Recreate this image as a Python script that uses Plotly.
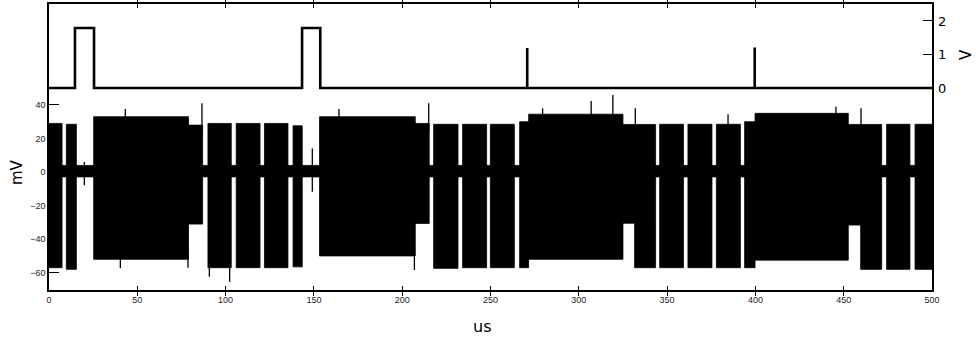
import plotly.graph_objects as go

# ---------------- data ----------------
# Top panel: digital trigger (V) vs time (us)
trig_t = [0, 14.7, 14.7, 25.5, 25.5, 143.3, 143.3, 153.6, 153.6, 270.8, 270.8, 270.8, 399.6, 399.6, 399.6, 500]
trig_v = [0, 0, 1.79, 1.79, 0, 0, 1.79, 1.79, 0, 0, 1.19, 0, 0, 1.21, 0, 0]

# Bottom panel: burst envelopes of the recorded trace (mV)
burst_start  = [0, 9.8, 25.3, 79, 90, 106, 122, 138.2, 153.2, 207.4, 217.8, 234.2, 249.9, 266.5, 271.6,
                325, 331.6, 345.8, 361.8, 377.9, 393.9, 399.8, 452.6, 459.6, 474.3, 490.4]
burst_end    = [7.4, 15.5, 79, 87, 103.2, 119.5, 135.3, 143.4, 207.4, 215.3, 231.6, 247.8, 263.5, 271.6, 325,
                331.6, 343.5, 359.3, 375.4, 391.5, 399.8, 452.6, 459.6, 471.5, 487.5, 500]
burst_top    = [29, 28.5, 33, 28, 29, 29, 29, 27.6, 33, 29, 28.5, 28.5, 28.5, 30, 34.5,
                28.4, 28.4, 28.5, 28.5, 28.5, 30, 35, 28.4, 28.4, 28.5, 28.5]
burst_bottom = [-57, -58, -52, -31, -57, -57, -57, -56.5, -50, -30.6, -57.4, -57, -57, -57, -52,
                -30.5, -57, -57, -57, -57, -57, -52.5, -31.6, -58, -58, -58]

# resting band between bursts (mV)
base_low, base_high = -3.0, 4.0

# isolated excursions beyond the envelopes: time (us), from (mV), to (mV)
spike_t    = [86.6, 215.0, 307.0, 319.3, 332.0, 459.8, 445.6, 43.2, 164.2, 279.5, 384.5,
              40.4, 78.7, 90.8, 102.3, 206.9, 149.1, 20.0]
spike_from = [25, 25, 30, 30, 25, 25, 30, 30, 30, 30, 25,
              -45, -45, -50, -50, -45, -11.7, -7.8]
spike_to   = [41, 41, 42.3, 46, 38, 38, 39, 37.6, 37.6, 38, 34.4,
              -57.4, -57, -62.4, -65.4, -58.4, 14, 6]

# ---------------- figure ----------------
fig = go.Figure()

# baseline band
fig.add_trace(go.Scatter(
    x=[0, 500, 500, 0, 0], y=[base_low, base_low, base_high, base_high, base_low],
    mode="lines", fill="toself", fillcolor="black", line=dict(color="black", width=0.5),
    hoverinfo="skip", showlegend=False))

# bursts
bx, by = [], []
for s, e, t, b in zip(burst_start, burst_end, burst_top, burst_bottom):
    bx += [s, s, e, e, s, None]
    by += [b, t, t, b, b, None]
fig.add_trace(go.Scatter(
    x=bx, y=by, mode="lines", fill="toself", fillcolor="black",
    line=dict(color="black", width=0.8), hoverinfo="skip", showlegend=False))

# spikes
sx, sy = [], []
for t, a, b in zip(spike_t, spike_from, spike_to):
    sx += [t, t, None]
    sy += [a, b, None]
fig.add_trace(go.Scatter(x=sx, y=sy, mode="lines", line=dict(color="black", width=1.3),
                         hoverinfo="skip", showlegend=False))

# trigger trace on right axis
fig.add_trace(go.Scatter(x=trig_t, y=trig_v, yaxis="y2", mode="lines",
                         line=dict(color="black", width=2.6), hoverinfo="skip", showlegend=False))

tickfont_small = dict(family="Liberation Sans, Arial, sans-serif", size=9, color="#222")

W, H = 976, 338
l, r, t, b = 49, 44, 4, 48

fig.update_layout(
    width=W, height=H,
    margin=dict(l=l, r=r, t=t, b=b, autoexpand=False),
    paper_bgcolor="white", plot_bgcolor="white",
    xaxis=dict(range=[0, 500], tickvals=list(range(0, 501, 50)), ticks="inside", ticklen=4,
               tickcolor="black", showline=True, linecolor="black", linewidth=1.5,
               mirror="allticks", showgrid=False, zeroline=False, tickfont=tickfont_small),
    yaxis=dict(range=[-70.3, 100.2], tickvals=[-60, -40, -20, 0, 20, 40], ticks="inside",
               ticklen=10, tickcolor="black", showline=True, linecolor="black", linewidth=1.5,
               mirror=True, showgrid=False, zeroline=False, tickfont=tickfont_small),
    yaxis2=dict(range=[-6.03, 2.507], overlaying="y", side="right", tickvals=[0, 1, 2],
                ticks="inside", ticklen=9, tickcolor="black", showgrid=False, zeroline=False,
                showline=False, ticklabelstandoff=5,
                tickfont=dict(family="DejaVu Sans", size=13, color="black")),
)

# axis titles placed by pixel position (converted to paper coords)
pw, ph = W - l - r, H - t - b
def px(xp, yp):
    return (xp - l) / pw, (H - b - yp) / ph

for txt, xp, yp, ang, sz in [("mV", 17, 172, -90, 15), ("V", 966, 55, -90, 15), ("us", 482, 326, 0, 16)]:
    ax_, ay_ = px(xp, yp)
    fig.add_annotation(text=txt, x=ax_, y=ay_, xref="paper", yref="paper", showarrow=False,
                       textangle=ang, xanchor="center", yanchor="middle",
                       font=dict(family="DejaVu Sans", size=sz, color="black"))

fig.write_html("out.html", config={"displayModeBar": False},
               post_script="document.body.style.margin='0';document.body.style.padding='0';")
